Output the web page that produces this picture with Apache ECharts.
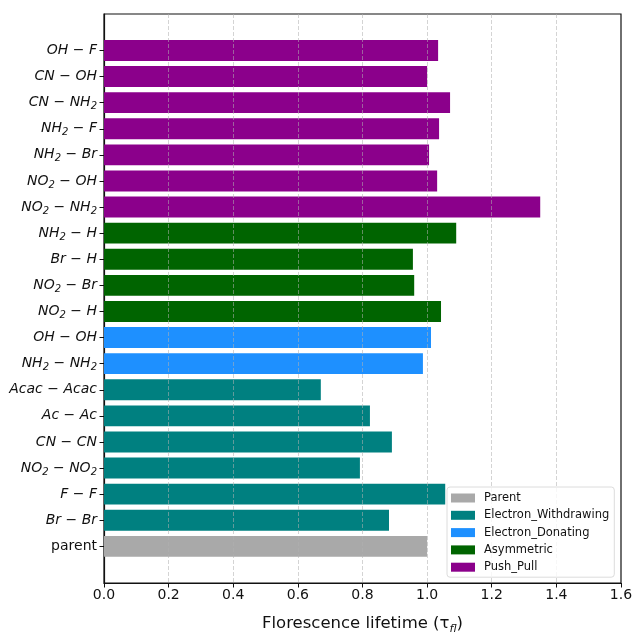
<!DOCTYPE html>
<html>
<head>
<meta charset="utf-8">
<script src="https://cdn.jsdelivr.net/npm/echarts@6/dist/echarts.min.js"></script>
<style>
  html, body { margin: 0; padding: 0; background: #fff; }
  #chart { width: 634px; height: 632px; }
</style>
</head>
<body>
<div id="chart"></div>
<script>
// Compounds listed bottom to top; "_2" marks a subscript 2
const categories = [
  'parent', 'Br − Br', 'F − F', 'NO_2 − NO_2', 'CN − CN', 'Ac − Ac', 'Acac − Acac',
  'NH_2 − NH_2', 'OH − OH', 'NO_2 − H', 'NO_2 − Br', 'Br − H', 'NH_2 − H',
  'NO_2 − NH_2', 'NO_2 − OH', 'NH_2 − Br', 'NH_2 − F', 'CN − NH_2', 'CN − OH', 'OH − F'
];
// Fluorescence lifetime relative to the parent compound
const lifetimes = [
  1.000, 0.882, 1.056, 0.792, 0.891, 0.823, 0.671,
  0.987, 1.012, 1.043, 0.960, 0.956, 1.090,
  1.350, 1.031, 1.006, 1.037, 1.071, 1.000, 1.034
];
// Substituent class of each compound (index into groupNames)
const groupOf = [
  0, 1, 1, 1, 1, 1, 1,
  2, 2, 3, 3, 3, 3,
  4, 4, 4, 4, 4, 4, 4
];
const groupNames = ['Parent', 'Electron_Withdrawing', 'Electron_Donating', 'Asymmetric', 'Push_Pull'];
const groupColors = ['#a9a9a9', '#008080', '#1e90ff', '#006400', '#8b008b'];
const xTicks = { min: 0, max: 1.6, step: 0.2 };

const chart = echarts.init(document.getElementById('chart'), null, { renderer: 'canvas' });

function formatLabel(name) {
  if (name === 'parent') return '{p|parent}';
  return name.split(/(_2)/).filter(s => s.length).map(s => s === '_2' ? '{s|2}' : '{i|' + s + '}').join('');
}

const series = groupNames.map((g, gi) => ({
  name: g,
  type: 'bar',
  xAxisIndex: 1,
  yAxisIndex: 1,
  stack: 'all',
  barWidth: '80%',
  itemStyle: { color: groupColors[gi] },
  data: lifetimes.map((v, i) => groupOf[i] === gi ? v : '-')
}));

const labelFont = 'DejaVu Sans';

chart.setOption({
  animation: false,
  backgroundColor: '#ffffff',
  grid: [
    {
      left: 104, right: 13, top: 14, bottom: 49, outerBoundsMode: 'none', containLabel: false,
      show: true, borderColor: '#111', borderWidth: 1.2, backgroundColor: 'transparent'
    },
    { left: 104, right: 13, top: 37.4, bottom: 72.6, outerBoundsMode: 'none', containLabel: false }
  ],
  xAxis: [
    {
      gridIndex: 0, type: 'value', min: xTicks.min, max: xTicks.max, interval: xTicks.step,
      z: 3,
      axisLine: { show: true, lineStyle: { color: '#111', width: 1.2 } },
      axisTick: { show: true, length: 4.5, lineStyle: { color: '#111', width: 1 } },
      axisLabel: {
        margin: 5, color: '#111', fontFamily: labelFont, fontSize: 14,
        formatter: v => v.toFixed(1)
      },
      splitLine: {
        show: true, showMinLine: false, showMaxLine: false,
        lineStyle: { color: 'rgba(176,176,176,0.55)', type: [4, 2], width: 1 }
      },
      name: '{a|Florescence lifetime (τ}{s|fl}{a|)}',
      nameLocation: 'middle',
      nameGap: 30,
      nameTextStyle: {
        rich: {
          a: { fontFamily: labelFont, fontSize: 16.5, color: '#111', lineHeight: 22 },
          s: { fontFamily: labelFont, fontStyle: 'italic', fontSize: 11, color: '#111', lineHeight: 11, verticalAlign: 'bottom' }
        }
      }
    },
    {
      gridIndex: 1, type: 'value', min: xTicks.min, max: xTicks.max, show: false
    }
  ],
  yAxis: [
    {
      gridIndex: 0, type: 'value', min: 0, max: 1,
      axisLine: { show: true, lineStyle: { color: '#111', width: 1.2 } },
      axisTick: { show: false }, axisLabel: { show: false }, splitLine: { show: false }
    },
    {
      gridIndex: 1, type: 'category', data: categories,
      axisLine: { show: false },
      axisTick: { show: true, alignWithLabel: true, length: 4.5, lineStyle: { color: '#111', width: 1 } },
      splitLine: { show: false },
      axisLabel: {
        margin: 7, interval: 0,
        formatter: formatLabel,
        rich: {
          p: { fontFamily: labelFont, fontSize: 14, color: '#111', lineHeight: 18 },
          i: { fontFamily: labelFont, fontStyle: 'italic', fontSize: 14, color: '#111', lineHeight: 18 },
          s: { fontFamily: labelFont, fontStyle: 'italic', fontSize: 10, color: '#111', lineHeight: 10, verticalAlign: 'bottom' }
        }
      }
    }
  ],
  legend: {
    orient: 'vertical',
    left: 447, top: 487,
    padding: [5, 5, 4, 4],
    itemGap: 5.3,
    itemWidth: 24, itemHeight: 9,
    icon: 'rect',
    backgroundColor: 'rgba(255,255,255,0.8)',
    borderColor: '#dcdcdc', borderWidth: 1, borderRadius: 3,
    textStyle: { fontFamily: labelFont, fontSize: 11.5, lineHeight: 11.5, color: '#111', padding: [0, 0, 0, 4] },
    data: groupNames
  },
  series: series
});
</script>
</body>
</html>
